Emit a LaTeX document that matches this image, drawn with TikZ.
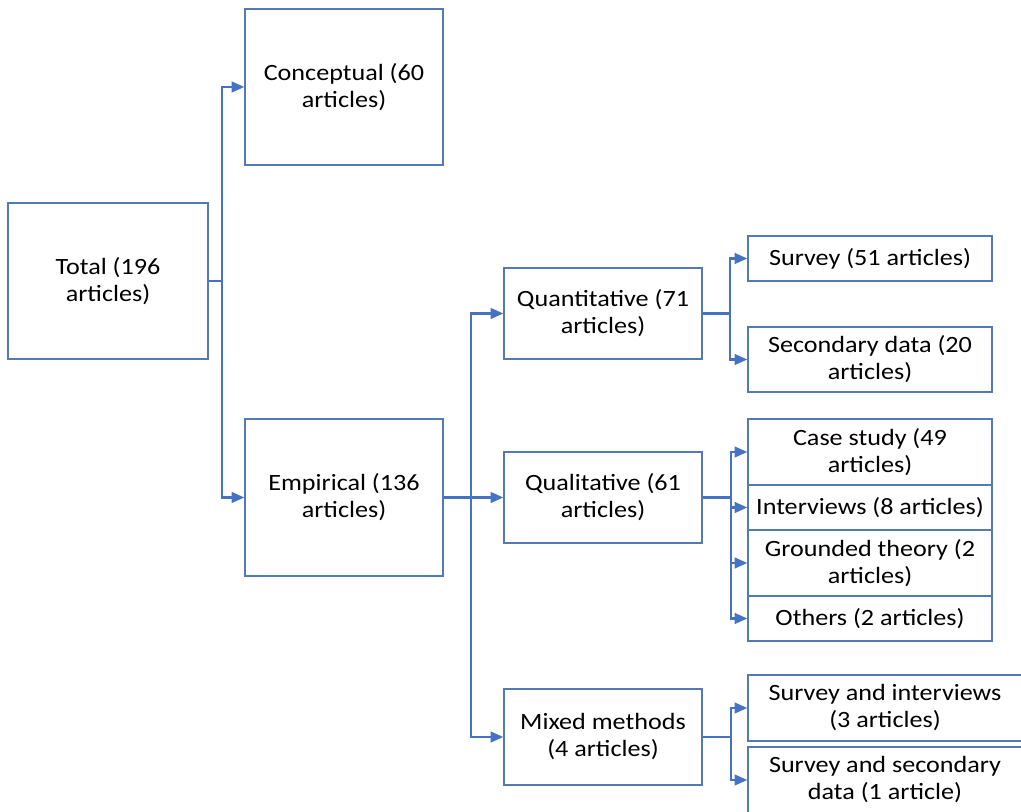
\documentclass[tikz,border=0pt]{standalone}
\usepackage{fontspec}
\setmainfont{Carlito}[FakeStretch=1.12]
\usetikzlibrary{arrows.meta}
\definecolor{linec}{RGB}{68,114,196}
\definecolor{boxc}{RGB}{84,122,182}
\tikzset{
  box/.style={draw=boxc, line width=1.05pt, fill=white, align=center, inner sep=2pt,
    font=\fontsize{17.5}{20.25}\selectfont, text=black},
  arr/.style={draw=linec, line width=1.6pt, -{Triangle[length=9.5pt,width=8pt]}},
  ln/.style={draw=linec, line width=1.6pt}
}
\begin{document}
\begin{tikzpicture}[x=0.75pt,y=-0.75pt]
\useasboundingbox (0,0) rectangle (1021,812);
\clip (0,0) rectangle (1021,812);
\fill[white] (0,0) rectangle (1021,812);
% level 1
\node[box, minimum width=150pt, minimum height=117pt] (total) at (108,281) {Total (196\\articles)};
% level 2
\node[box, minimum width=148.5pt, minimum height=117pt] (concept) at (344,87) {Conceptual (60\\articles)};
\node[box, minimum width=148.5pt, minimum height=117.75pt] (emp) at (344,497.5) {Empirical (136\\articles)};
% level 3
\node[box, minimum width=148.5pt, minimum height=68.25pt] (quant) at (603,313.5) {Quantitative (71\\articles)};
\node[box, minimum width=148.5pt, minimum height=68.25pt] (qual) at (603,497.5) {Qualitative (61\\articles)};
\node[box, minimum width=148.5pt, minimum height=72pt] (mixed) at (603,737) {Mixed methods\\(4 articles)};
% level 4
\node[box, minimum width=183pt, minimum height=33.75pt] (survey) at (870,258.5) {Survey (51 articles)};
\node[box, minimum width=183pt, minimum height=48.75pt] (second) at (870,359.5) {Secondary data (20\\articles)};
\node[box, minimum width=183pt, minimum height=49.5pt] (case) at (870,452) {Case study (49\\articles)};
\node[box, minimum width=183pt, minimum height=33.75pt] (inter) at (870,507.5) {Interviews (8 articles)};
\node[box, minimum width=183pt, minimum height=49.5pt] (ground) at (870,563) {Grounded theory (2\\articles)};
\node[box, minimum width=183pt, minimum height=33.75pt] (others) at (870,618.5) {Others (2 articles)};
\node[box, minimum width=205.5pt, minimum height=49.5pt] (svint) at (885,708) {Survey and interviews\\(3 articles)};
\node[box, minimum width=205.5pt, minimum height=49.5pt] (svsec) at (885,780) {Survey and secondary\\data (1 article)};
% connectors
\draw[arr] (total.east) -- ++(13.5,0) |- (concept.west);
\draw[arr] (total.east) -- ++(13.5,0) |- (emp.west);
\draw[arr] (emp.east) -- ++(27.5,0) |- (quant.west);
\draw[arr] (emp.east) -- (qual.west);
\draw[arr] (emp.east) -- ++(27.5,0) |- (mixed.west);
\draw[arr] (quant.east) -- ++(27,0) |- (survey.west);
\draw[arr] (quant.east) -- ++(27,0) |- (second.west);
\draw[arr] (qual.east) -- ++(28,0) |- (case.west);
\draw[arr] (qual.east) -- ++(28,0) |- (inter.west);
\draw[arr] (qual.east) -- ++(28,0) |- (ground.west);
\draw[arr] (qual.east) -- ++(28,0) |- (others.west);
\draw[arr] (mixed.east) -- ++(28,0) |- (svint.west);
\draw[arr] (mixed.east) -- ++(28,0) |- (svsec.west);
\end{tikzpicture}
\end{document}
